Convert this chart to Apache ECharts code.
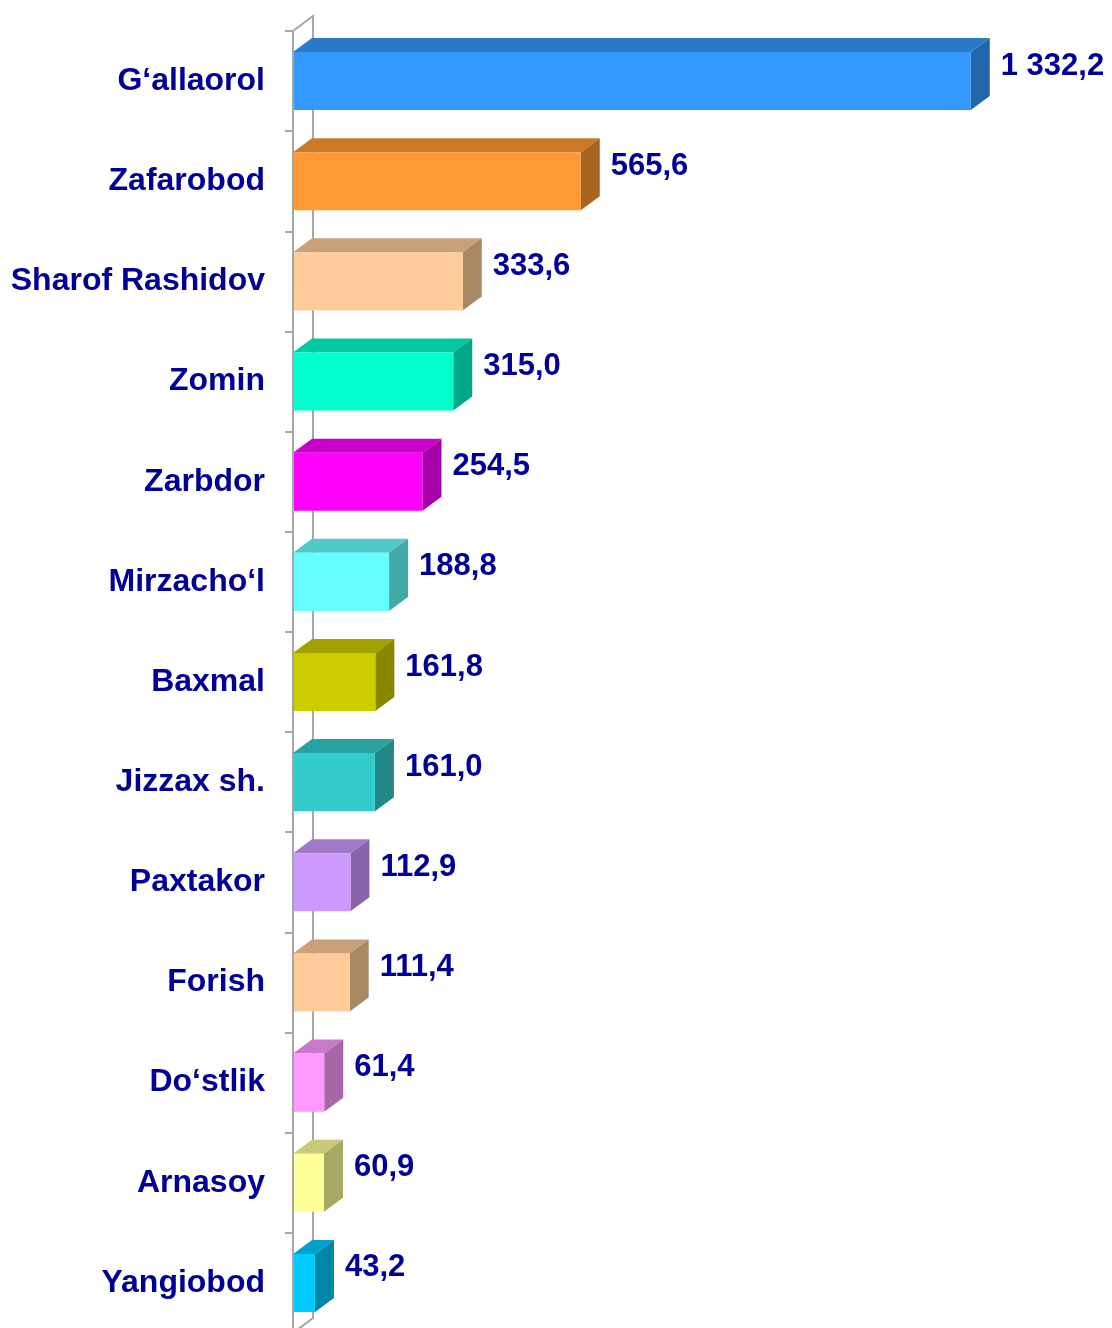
<!DOCTYPE html>
<html>
<head>
<meta charset="utf-8">
<script src="https://cdn.jsdelivr.net/npm/echarts@6/dist/echarts.min.js"></script>
<style>
  html, body { margin: 0; padding: 0; background: #ffffff; }
  #chart { width: 1112px; height: 1328px; }
</style>
</head>
<body>
<div id="chart"></div>
<script>
// Districts, top to bottom
const categories = [
  'G‘allaorol', 'Zafarobod', 'Sharof Rashidov', 'Zomin', 'Zarbdor',
  'Mirzacho‘l', 'Baxmal', 'Jizzax sh.', 'Paxtakor', 'Forish',
  'Do‘stlik', 'Arnasoy', 'Yangiobod'
];
const values = [1332.2, 565.6, 333.6, 315.0, 254.5, 188.8, 161.8, 161.0, 112.9, 111.4, 61.4, 60.9, 43.2];
// Front-face colour of each box
const frontColors = [
  '#3399FF', '#FF9933', '#FFCC99', '#00FFCC', '#FF00FF',
  '#66FFFF', '#CCCC00', '#33CCCC', '#CC99FF', '#FFCC99',
  '#FF99FF', '#FFFF99', '#00CCFF'
];

const TEXT_COLOR = '#000099';
const FONT = '"Liberation Sans", Arial, sans-serif';
const BOX_DX = 19;    // 3D depth offset of the boxes, px
const BOX_DY = 14;
const WALL_DX = 20;   // depth offset of the back wall, px
const WALL_DY = 15;

function shade(hex, k) {
  const n = parseInt(hex.slice(1), 16);
  const r = Math.round(((n >> 16) & 255) * k);
  const g = Math.round(((n >> 8) & 255) * k);
  const b = Math.round((n & 255) * k);
  return 'rgb(' + r + ',' + g + ',' + b + ')';
}

function formatValue(v) {
  const parts = v.toFixed(1).split('.');
  const intPart = parts[0].replace(/\B(?=(\d{3})+(?!\d))/g, ' ');
  return intPart + ',' + parts[1];
}

// Back wall of the 3D plot: top and bottom edges plus the rear vertical line
function renderWall(params, api) {
  const cs = params.coordSys;
  const x = cs.x, y = cs.y, h = cs.height;
  return {
    type: 'polyline',
    shape: {
      points: [
        [x, y], [x + WALL_DX, y - WALL_DY],
        [x + WALL_DX, y + h - WALL_DY], [x, y + h]
      ]
    },
    style: { stroke: '#a6a6a6', lineWidth: 2, fill: null },
    silent: true
  };
}

// One 3D box per category: front, top and right-hand faces plus value label
function renderBox(params, api) {
  const v = api.value(0);
  const idx = api.value(1);
  const p0 = api.coord([0, idx]);
  const p1 = api.coord([v, idx]);
  const band = api.size([0, 1])[1];
  const h = band * 0.58;
  const top = p0[1] - h / 2;
  const x0 = p0[0], x1 = p1[0];
  const c = frontColors[idx];
  return {
    type: 'group',
    children: [
      {
        type: 'polygon',
        shape: { points: [[x0, top], [x0 + BOX_DX, top - BOX_DY], [x1 + BOX_DX, top - BOX_DY], [x1, top]] },
        style: { fill: shade(c, 0.79) }
      },
      {
        type: 'polygon',
        shape: { points: [[x1, top], [x1 + BOX_DX, top - BOX_DY], [x1 + BOX_DX, top + h - BOX_DY], [x1, top + h]] },
        style: { fill: shade(c, 0.66) }
      },
      {
        type: 'rect',
        shape: { x: x0, y: top, width: x1 - x0, height: h },
        style: { fill: c }
      },
      {
        type: 'text',
        x: x1 + BOX_DX + 11,
        y: top - BOX_DY + h / 2 - 1,
        style: {
          text: formatValue(v),
          fill: TEXT_COLOR,
          font: 'bold 31px ' + FONT,
          align: 'left',
          verticalAlign: 'middle'
        }
      }
    ]
  };
}

const chart = echarts.init(document.getElementById('chart'), null, { renderer: 'canvas' });

chart.setOption({
  backgroundColor: '#ffffff',
  animation: false,
  grid: {
    left: 293, top: 31, height: 1302, right: 5,
    containLabel: false,
    outerBoundsMode: 'none'
  },
  xAxis: {
    type: 'value',
    min: 0,
    max: 1600,
    show: false
  },
  yAxis: {
    type: 'category',
    data: categories,
    inverse: true,
    z: 5,
    axisLine: { show: true, lineStyle: { color: '#a6a6a6', width: 2 } },
    axisTick: { show: true, length: 8, lineStyle: { color: '#a6a6a6', width: 2 } },
    axisLabel: {
      margin: 28,
      color: TEXT_COLOR,
      fontFamily: FONT,
      fontWeight: 'bold',
      fontSize: 32,
      padding: [5, 0, 0, 0]
    },
    splitLine: { show: false }
  },
  series: [
    {
      type: 'custom',
      name: 'wall',
      z: 0,
      silent: true,
      renderItem: renderWall,
      data: [[0, 0]],
      encode: { x: 0, y: 1 }
    },
    {
      type: 'custom',
      name: 'values',
      z: 1,
      renderItem: renderBox,
      data: values.map((v, i) => [v, i]),
      encode: { x: 0, y: 1 }
    }
  ]
});
</script>
</body>
</html>
